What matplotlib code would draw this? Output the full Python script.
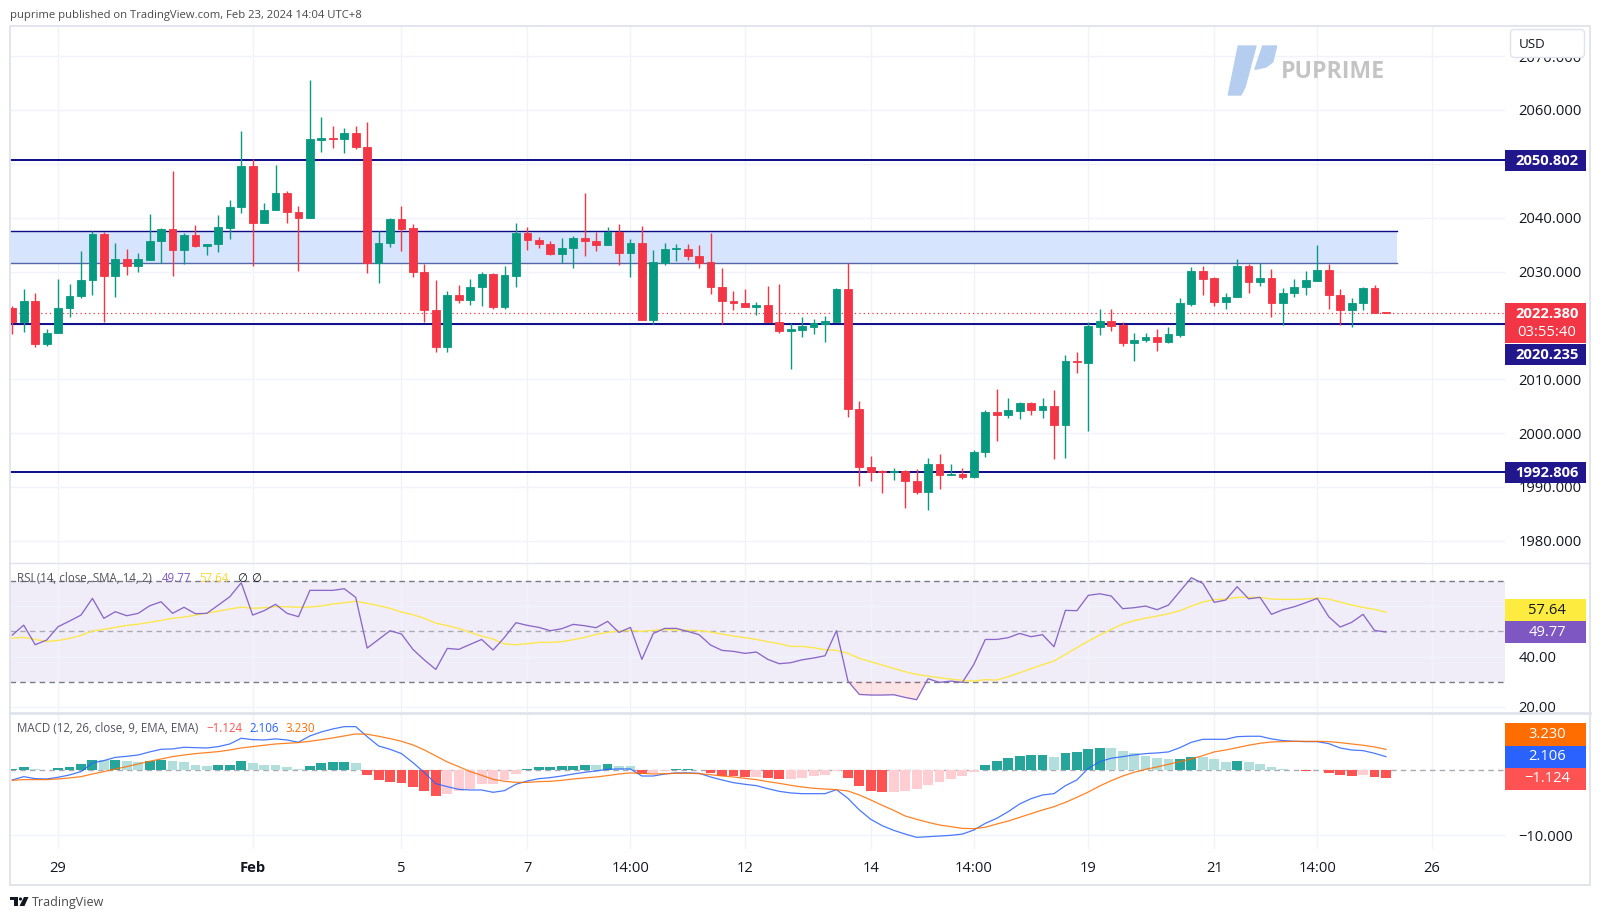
import matplotlib
matplotlib.use('Agg')
import matplotlib.pyplot as plt
from matplotlib.patches import Rectangle, FancyBboxPatch, Polygon, Circle

plt.rcParams['font.family'] = ['Open Sans', 'DejaVu Sans']

""" data read off the picture """
opens = [2023.17, 2020.69, 2024.59, 2016.55, 2018.53, 2023.29, 2025.46, 2028.43, 2036.97, 2029.24,
         2032.39, 2031.09, 2032.15, 2035.67, 2037.90, 2034.00, 2036.79, 2034.74, 2035.12, 2038.15,
         2042.05, 2049.66, 2039.08, 2041.43, 2044.52, 2041.12, 2040.00, 2054.50, 2054.80, 2054.61,
         2055.67, 2053.07, 2031.53, 2035.24, 2039.70, 2038.03, 2029.85, 2022.80, 2016.05, 2025.65,
         2024.72, 2027.07, 2029.55, 2023.48, 2029.24, 2037.10, 2035.86, 2035.12, 2033.26, 2034.31,
         2036.17, 2035.61, 2034.87, 2037.41, 2033.50, 2035.30, 2021.06, 2031.53, 2034.19, 2034.19,
         2032.89, 2031.71, 2027.07, 2024.60, 2024.20, 2023.48, 2023.85, 2020.70, 2019.02, 2019.10,
         2019.78, 2020.30, 2020.70, 2026.76, 2004.41, 1993.64, 1992.95, 1992.78, 1992.95, 1991.10,
         1989.12, 1994.19, 1992.16, 1992.41, 1991.85, 1996.43, 2003.86, 2003.42, 2004.17, 2005.53,
         2004.35, 2004.97, 2001.44, 2013.40, 2013.09, 2019.78, 2020.76, 2020.10, 2016.70, 2017.30,
         2017.86, 2016.92, 2018.28, 2023.98, 2030.10, 2028.74, 2024.35, 2025.28, 2030.98, 2028.00,
         2028.74, 2024.22, 2026.00, 2027.07, 2028.30, 2030.22, 2025.65, 2022.93, 2024.22, 2026.94,
         2022.50]
closes = [2020.69, 2024.59, 2016.55, 2018.53, 2023.29, 2025.46, 2028.43, 2036.97, 2029.24, 2032.39,
          2031.09, 2032.27, 2035.67, 2037.90, 2034.00, 2036.79, 2034.74, 2035.12, 2038.21, 2042.05,
          2049.66, 2039.08, 2041.43, 2044.52, 2041.12, 2040.00, 2054.61, 2054.74, 2054.61, 2055.67,
          2053.07, 2031.53, 2035.30, 2039.70, 2037.96, 2029.85, 2022.80, 2016.05, 2025.65, 2024.72,
          2027.07, 2029.55, 2023.48, 2029.36, 2037.10, 2035.80, 2035.12, 2033.26, 2034.37, 2036.17,
          2035.61, 2034.87, 2037.41, 2033.50, 2035.30, 2021.06, 2031.71, 2034.19, 2034.37, 2032.89,
          2031.53, 2027.07, 2024.60, 2024.16, 2023.48, 2023.85, 2020.70, 2019.02, 2019.26, 2019.84,
          2020.40, 2020.76, 2026.76, 2004.41, 1993.64, 1992.84, 1992.78, 1992.95, 1991.17, 1989.12,
          1994.19, 1992.20, 1992.41, 1991.85, 1996.43, 2003.92, 2003.42, 2004.23, 2005.53, 2004.35,
          2004.97, 2001.44, 2013.33, 2013.27, 2019.90, 2020.76, 2019.96, 2016.80, 2017.30, 2017.86,
          2016.92, 2018.40, 2024.10, 2030.10, 2028.68, 2024.41, 2025.28, 2030.98, 2028.00, 2028.74,
          2024.22, 2026.00, 2027.13, 2028.37, 2030.22, 2025.65, 2022.93, 2024.22, 2026.94, 2022.38,
          2022.38]
highs = [2023.60, 2026.76, 2026.08, 2019.27, 2028.62, 2027.69, 2033.88, 2037.53, 2037.28, 2035.36,
         2034.13, 2033.38, 2040.63, 2038.03, 2048.67, 2037.22, 2038.64, 2035.12, 2040.50, 2043.29,
         2056.10, 2050.90, 2042.79, 2049.72, 2044.96, 2042.23, 2065.57, 2058.76, 2057.03, 2056.60,
         2057.03, 2057.71, 2037.53, 2039.88, 2042.23, 2038.83, 2031.46, 2028.43, 2026.45, 2027.50,
         2028.62, 2029.92, 2029.67, 2031.03, 2038.95, 2038.27, 2036.48, 2035.67, 2036.23, 2036.60,
         2044.59, 2037.41, 2038.27, 2038.83, 2036.05, 2038.46, 2034.00, 2035.30, 2035.12, 2035.12,
         2035.00, 2037.16, 2030.60, 2026.45, 2026.76, 2024.30, 2027.31, 2027.69, 2020.40, 2021.62,
         2021.19, 2021.74, 2026.94, 2031.53, 2005.90, 1995.75, 1993.14, 1993.45, 1993.14, 1993.26,
         1995.30, 1996.05, 1994.27, 1993.46, 1996.86, 2004.29, 2008.25, 2006.44, 2005.78, 2005.78,
         2006.44, 2008.06, 2014.50, 2015.13, 2020.70, 2023.00, 2023.00, 2020.60, 2018.60, 2018.55,
         2019.28, 2019.70, 2025.15, 2030.85, 2031.03, 2028.93, 2026.00, 2032.28, 2031.40, 2031.53,
         2030.40, 2026.90, 2028.55, 2030.10, 2034.93, 2031.40, 2026.76, 2025.10, 2027.20, 2027.50,
         2022.55]
lows = [2018.34, 2018.84, 2016.05, 2016.17, 2018.53, 2021.62, 2025.03, 2025.58, 2020.69, 2025.21,
        2029.36, 2029.92, 2032.15, 2031.53, 2029.17, 2031.46, 2034.62, 2033.07, 2033.69, 2036.11,
        2040.93, 2031.09, 2039.08, 2041.43, 2039.08, 2030.16, 2040.00, 2052.26, 2053.00, 2052.08,
        2052.82, 2029.79, 2027.94, 2034.50, 2033.75, 2029.05, 2020.69, 2015.06, 2015.06, 2024.10,
        2023.79, 2023.60, 2023.10, 2023.10, 2027.07, 2033.94, 2034.31, 2033.14, 2031.53, 2030.73,
        2032.89, 2033.75, 2034.87, 2031.22, 2029.05, 2021.06, 2020.26, 2031.22, 2032.02, 2032.14,
        2030.73, 2025.83, 2020.26, 2022.86, 2023.48, 2021.99, 2020.70, 2018.65, 2011.90, 2017.91,
        2018.40, 2017.00, 2020.70, 2003.05, 1990.18, 1991.17, 1988.94, 1991.29, 1986.15, 1988.75,
        1985.72, 1989.60, 1992.16, 1991.41, 1991.60, 1995.62, 1998.54, 2002.85, 2002.54, 2003.36,
        2002.85, 1995.25, 1995.44, 2011.23, 2000.34, 2018.28, 2019.00, 2016.20, 2013.45, 2016.86,
        2015.20, 2016.80, 2017.90, 2023.60, 2025.58, 2023.60, 2023.06, 2025.28, 2025.95, 2027.38,
        2021.60, 2020.15, 2025.20, 2025.58, 2028.30, 2023.06, 2020.00, 2019.75, 2022.87, 2022.38,
        2022.30]

rsi = [48.55, 52.50, 44.70, 46.56, 51.87, 54.13, 56.50, 63.16, 55.20, 57.85,
       56.25, 57.20, 60.20, 61.80, 57.20, 59.60, 57.05, 57.20, 60.50, 63.80,
       69.40, 56.50, 58.25, 60.80, 57.20, 55.86, 66.35, 66.35, 66.35, 67.00,
       63.56, 43.37, 46.80, 50.28, 48.95, 42.84, 38.60, 34.87, 43.24, 42.84,
       44.83, 46.80, 42.58, 47.62, 53.47, 52.40, 51.60, 50.28, 51.08, 52.80,
       52.27, 51.47, 54.00, 49.60, 51.60, 38.86, 49.20, 51.20, 51.20, 50.00,
       48.70, 44.57, 42.44, 42.05, 41.25, 41.78, 38.86, 37.13, 37.53, 38.70,
       39.40, 40.30, 50.28, 30.20, 24.90, 24.65, 24.65, 24.78, 23.70, 22.80,
       31.15, 29.70, 30.20, 29.70, 36.87, 46.80, 46.80, 47.50, 49.20, 47.90,
       48.70, 43.90, 58.40, 58.25, 64.36, 65.00, 64.10, 59.05, 59.44, 60.10,
       58.65, 60.50, 65.95, 71.40, 69.14, 61.57, 62.50, 67.80, 63.00, 63.56,
       56.80, 58.65, 59.84, 61.44, 63.16, 55.86, 51.74, 53.60, 56.80, 50.40,
       49.77]
rsi_ma = [47.36, 47.62, 46.80, 46.00, 46.40, 47.20, 48.40, 50.15, 50.80, 51.60,
          52.40, 52.90, 53.60, 54.40, 55.20, 55.70, 56.50, 57.30, 58.10, 58.90,
          59.70, 59.20, 59.44, 59.84, 59.84, 59.60, 59.70, 60.10, 60.90, 61.40,
          62.00, 61.20, 60.24, 59.20, 57.70, 56.65, 55.20, 53.30, 52.30, 51.20,
          49.60, 48.15, 46.96, 44.97, 44.70, 45.10, 45.63, 45.63, 45.90, 46.70,
          47.60, 48.80, 49.60, 50.15, 50.40, 50.00, 50.40, 50.80, 50.50, 50.50,
          50.30, 49.75, 48.95, 48.15, 47.50, 46.80, 45.90, 45.10, 44.04, 44.04,
          43.50, 42.70, 42.44, 41.25, 39.26, 37.93, 36.60, 35.27, 33.94, 32.88,
          32.20, 31.55, 31.00, 30.50, 30.20, 30.80, 30.60, 31.95, 33.55, 35.14,
          36.73, 38.20, 40.85, 43.50, 46.16, 48.55, 50.80, 52.93, 54.26, 55.30,
          56.10, 57.05, 58.25, 60.10, 61.70, 62.63, 62.90, 63.56, 63.56, 63.56,
          62.90, 62.76, 62.76, 62.90, 63.30, 62.90, 61.70, 60.50, 59.57, 58.78,
          57.64]

macd = [-1.49, -0.98, -1.29, -1.34, -1.08, -0.72, -0.20, 1.13, 1.50, 2.00,
        2.16, 2.37, 2.84, 3.25, 3.30, 3.56, 3.50, 3.45, 3.66, 4.07,
        4.95, 4.74, 4.69, 4.85, 4.69, 4.33, 5.31, 5.93, 6.39, 6.75,
        6.75, 5.20, 3.76, 3.25, 2.58, 1.19, -0.36, -2.06, -2.53, -2.94,
        -3.04, -3.04, -3.40, -3.14, -2.16, -1.65, -1.29, -1.13, -0.88, -0.57,
        -0.31, -0.10, 0.15, 0.21, 0.21, -0.88, -0.88, -0.57, -0.41, -0.41,
        -0.46, -1.03, -1.49, -1.91, -2.16, -2.37, -2.84, -3.25, -3.50, -3.61,
        -3.61, -3.61, -2.99, -4.33, -6.13, -7.58, -8.56, -9.28, -9.85, -10.36,
        -10.26, -10.15, -10.05, -9.85, -9.23, -8.20, -7.42, -6.39, -5.20, -4.38,
        -3.81, -3.61, -2.37, -1.49, 0.31, 1.34, 1.86, 2.11, 2.37, 2.58,
        2.68, 2.84, 3.50, 4.33, 4.79, 4.79, 4.79, 5.20, 5.26, 5.26,
        4.85, 4.59, 4.48, 4.43, 4.43, 4.12, 3.45, 3.14, 3.04, 2.63,
        2.106]
signal = [-1.55, -1.44, -1.44, -1.44, -1.34, -1.18, -0.98, -0.57, -0.20, 0.20,
          0.57, 0.98, 1.39, 1.75, 2.11, 2.37, 2.58, 2.73, 2.89, 3.14,
          3.45, 3.66, 3.87, 4.07, 4.18, 4.28, 4.48, 4.74, 5.00, 5.31,
          5.62, 5.57, 5.26, 4.90, 4.48, 3.92, 3.14, 2.22, 1.29, 0.57,
          -0.20, -0.77, -1.39, -1.70, -1.86, -1.86, -1.75, -1.70, -1.55, -1.34,
          -1.18, -1.03, -0.82, -0.57, -0.41, -0.46, -0.57, -0.52, -0.46, -0.46,
          -0.52, -0.67, -0.88, -1.03, -1.24, -1.44, -1.75, -2.01, -2.32, -2.58,
          -2.78, -2.89, -2.99, -3.20, -3.81, -4.59, -5.41, -6.19, -7.06, -7.58,
          -8.04, -8.45, -8.71, -8.97, -9.02, -8.80, -8.30, -7.84, -7.27, -6.70,
          -6.13, -5.62, -4.95, -4.18, -3.35, -2.42, -1.60, -0.88, -0.31, 0.15,
          0.52, 0.93, 1.34, 1.75, 2.27, 2.84, 3.14, 3.50, 3.87, 4.18,
          4.38, 4.43, 4.48, 4.48, 4.48, 4.43, 4.28, 4.07, 3.87, 3.61,
          3.23]
hist = [0.15, 0.46, 0.15, 0.05, 0.31, 0.57, 0.93, 1.65, 1.60, 1.65,
        1.50, 1.34, 1.50, 1.52, 1.39, 1.24, 0.88, 0.70, 0.76, 0.88,
        1.50, 1.08, 0.77, 0.75, 0.46, 0.15, 0.72, 1.19, 1.34, 1.36,
        1.08, -0.67, -1.44, -1.75, -1.91, -2.53, -3.25, -4.02, -3.61, -3.25,
        -2.84, -2.11, -2.06, -1.49, -0.52, 0.20, 0.46, 0.48, 0.62, 0.72,
        0.77, 0.75, 0.98, 0.67, 0.62, -0.57, -0.46, -0.15, 0.15, 0.17,
        0.10, -0.46, -0.82, -0.93, -1.08, -1.03, -1.19, -1.34, -1.32, -1.19,
        -0.88, -0.72, -0.10, -1.19, -2.37, -3.14, -3.30, -3.28, -3.20, -2.89,
        -2.27, -1.80, -1.34, -0.88, -0.26, 0.82, 1.50, 1.90, 2.20, 2.37,
        2.39, 2.11, 2.73, 2.84, 3.30, 3.45, 3.43, 3.04, 2.73, 2.27,
        1.96, 1.70, 1.80, 2.11, 2.09, 1.70, 1.34, 1.50, 1.24, 1.03,
        0.46, 0.15, 0.05, -0.05, 0.05, -0.41, -0.72, -0.82, -0.80, -1.03,
        -1.124]

time_ticks = [4, 21, 34, 45, 54, 64, 75, 84, 94, 105, 114, 124]
time_labels = ['29', 'Feb', '5', '7', '14:00', '12', '14', '14:00', '19', '21', '14:00', '26']
price_ticks = [2070, 2060, 2050, 2040, 2030, 2020, 2010, 2000, 1990, 1980]
price_hidden = [2050, 2020]  # sit under the price tags in the picture
rsi_ticks = [20, 40, 60]
rsi_hidden = [60]
levels = [2050.802, 2020.235, 1992.806]
zone_low, zone_high, zone_end = 2031.53, 2037.47, 121
last_price = 2022.38

UP = '#089981'
DOWN = '#f23645'
NAVY = '#0c0a87'
TAG_NAVY = '#22168c'
GRID = '#f0f3fa'
BORDER = '#e0e3eb'
TXT = '#131722'
W, H = 1600, 919

fig = plt.figure(figsize=(W / 100, H / 100), dpi=100, facecolor='white')

def pane(top, bottom):
    ax = fig.add_axes([10 / W, 1 - bottom / H, 1495 / W, (bottom - top) / H])
    ax.set_xlim(-0.2, 130.4)
    for s in ax.spines.values():
        s.set_visible(False)
    ax.set_axisbelow(True)
    ax.grid(True, color=GRID, lw=1)
    ax.set_xticks(time_ticks)
    ax.yaxis.tick_right()
    ax.tick_params(axis='y', length=0, pad=9.5, labelsize=10.6, labelcolor=TXT)
    ax.tick_params(axis='x', length=0, labelbottom=False)
    return ax

""" price pane """
ax1 = pane(27, 562)
ax1.set_ylim(1976.06, 2075.41)
ax1.set_yticks(price_ticks)
ax1.set_yticklabels(['' if p in price_hidden else '{:.3f}'.format(p) for p in price_ticks])
ax1.add_patch(Rectangle((-1, zone_low), zone_end + 1, zone_high - zone_low, fc='#d6e4fd', ec='none', zorder=1))
ax1.plot([-1, zone_end], [zone_high, zone_high], color=NAVY, lw=1.0, zorder=1.5)
ax1.plot([-1, zone_end], [zone_low, zone_low], color='#5566a8', lw=1.0, zorder=1.5)
for lv in levels:
    ax1.axhline(lv, color=NAVY, lw=1.4, zorder=1.5)
ax1.axhline(last_price, color=DOWN, lw=0.9, ls=(0, (1, 2.5)), zorder=1.6)

idx = list(range(len(opens)))
colors = [UP if c >= o else DOWN for o, c in zip(opens, closes)]
ax1.vlines(idx, lows, highs, colors=colors, lw=1.0, zorder=2)
ax1.bar(idx, [abs(c - o) for o, c in zip(opens, closes)], bottom=[min(o, c) for o, c in zip(opens, closes)],
        width=0.68, color=colors, edgecolor=colors, lw=0.6, zorder=3)

""" rsi pane """
ax2 = pane(563, 712)
ax2.set_ylim(17.9, 77.25)
ax2.set_yticks(rsi_ticks)
ax2.set_yticklabels(['' if t in rsi_hidden else '{:.2f}'.format(t) for t in rsi_ticks])
ax2.axhspan(30, 70, color='#7e57c2', alpha=0.1, lw=0, zorder=0.5)
ax2.axhline(70, color='#787b86', lw=1, ls=(0, (4, 3)), zorder=1)
ax2.axhline(50, color='#a8abb4', lw=1, ls=(0, (4, 3)), zorder=1)
ax2.axhline(30, color='#787b86', lw=1, ls=(0, (4, 3)), zorder=1)
ax2.fill_between(idx, rsi, 30, where=[r < 30 for r in rsi], interpolate=True, color='#f23645', alpha=0.13, lw=0, zorder=1.2)
ax2.fill_between(idx, rsi, 70, where=[r > 70 for r in rsi], interpolate=True, color='#089981', alpha=0.13, lw=0, zorder=1.2)
ax2.plot(idx, rsi_ma, color='#fde74c', lw=1.0, zorder=2)
ax2.plot(idx, rsi, color='#8a68c8', lw=0.95, zorder=3)

""" macd pane """
ax3 = pane(714, 849)
ax3.set_ylim(-12.16, 8.7)
ax3.set_yticks([-10])
ax3.set_yticklabels(['\u221210.000'])
ax3.axhline(0, color='#a8abb4', lw=1, ls=(0, (4, 3)), zorder=1)
hist_colors = []
for i, h in enumerate(hist):
    prev = hist[i - 1] if i > 0 else 0
    if h >= 0:
        hist_colors.append('#26a69a' if h >= prev else '#b2dfdb')
    else:
        hist_colors.append('#ff5252' if h < prev else '#ffcdd2')
ax3.bar(idx, hist, width=0.86, color=hist_colors, lw=0, zorder=2)
ax3.plot(idx, macd, color='#2962ff', lw=0.9, alpha=0.85, zorder=3)
ax3.plot(idx, signal, color='#ff6d00', lw=0.9, alpha=0.85, zorder=3.1)
ax3.tick_params(axis='x', labelbottom=True, pad=9, labelsize=10.6, labelcolor=TXT)
ax3.set_xticklabels(time_labels)
ax3.get_xticklabels()[1].set_fontweight('bold')

""" overlay in pixels: frame, tags, texts, logos """
ov = fig.add_axes([0, 0, 1, 1], zorder=10)
ov.set_xlim(0, W)
ov.set_ylim(H, 0)
ov.axis('off')
ov.patch.set_alpha(0)

ov.add_patch(Rectangle((10, 26), 1580, 859, fc='none', ec=BORDER, lw=1.3))
ov.plot([10, 1590], [562.5, 562.5], color=BORDER, lw=1)
ov.plot([10, 1590], [713, 713], color=BORDER, lw=2)

def tag(top, bottom, label, bg, fg='white', weight='bold'):
    ov.add_patch(Rectangle((1505, top), 81, bottom - top, fc=bg, ec='none', zorder=4))
    if label:
        ov.text(1547, (top + bottom) / 2 + 0.5, label, color=fg, fontsize=10.6, fontweight=weight, ha='center', va='center', zorder=5)

tag(150, 171, '2050.802', TAG_NAVY)
tag(303, 343, '', DOWN)
ov.text(1547, 314, '2022.380', color='white', fontsize=10.6, fontweight='bold', ha='center', va='center', zorder=5)
ov.text(1547, 332.5, '03:55:40', color='white', fontsize=10.6, ha='center', va='center', zorder=5)
tag(344, 364.5, '2020.235', TAG_NAVY)
tag(462, 483, '1992.806', TAG_NAVY)
tag(598.5, 621, '57.64', '#fdeb3f', fg=TXT, weight='normal')
tag(621, 643, '49.77', '#7e57c2', weight='normal')
tag(723, 745.5, '3.230', '#ff6d00', weight='normal')
tag(745.5, 767.5, '2.106', '#2962ff', weight='normal')
tag(767.5, 789.5, '\u22121.124', '#ff5252', weight='normal')

ov.add_patch(FancyBboxPatch((1513, 32), 69, 23, boxstyle='round,pad=2.5,rounding_size=4', fc='white', ec=BORDER, lw=1, zorder=4))
ov.text(1519, 44.5, 'USD', color=TXT, fontsize=9.6, ha='left', va='center', zorder=5)

ov.text(10, 15.5, 'puprime published on TradingView.com, Feb 23, 2024 14:04 UTC+8', color='#4a4a4a', fontsize=8.1, ha='left', va='center')

ov.text(17.3, 578, 'RSI (14, close, SMA, 14, 2)', color='#50535e', fontsize=8.3, ha='left', va='center')
ov.text(162, 578, '49.77', color='#7e57c2', fontsize=8.3, ha='left', va='center')
ov.text(199, 578, '57.64', color='#fdd835', fontsize=8.3, ha='left', va='center')
ov.text(237, 578, '\u2205', color=TXT, fontsize=8.3, ha='left', va='center')
ov.text(251, 578, '\u2205', color=TXT, fontsize=8.3, ha='left', va='center')

ov.text(17.3, 729, 'MACD (12, 26, close, 9, EMA, EMA)', color='#50535e', fontsize=8.3, ha='left', va='center')
ov.text(206.7, 729, '\u22121.124', color='#ff5252', fontsize=8.3, ha='left', va='center')
ov.text(249, 729, '2.106', color='#2962ff', fontsize=8.3, ha='left', va='center')
ov.text(285, 729, '3.230', color='#ff6d00', fontsize=8.3, ha='left', va='center')

# puprime watermark
ov.add_patch(Polygon([(1238.3, 46), (1256, 46), (1245, 87), (1241, 95), (1228.3, 95)], fc='#b5cdee', ec='#b5cdee', lw=1, joinstyle='round'))
ov.add_patch(Polygon([(1262.7, 46), (1276.7, 46), (1272.7, 62), (1266, 67), (1255, 69.3)], fc='#b5cdee', ec='#b5cdee', lw=1, joinstyle='round'))
ov.text(1281, 72.5, 'PUPRIME', color='#c4c4c4', fontsize=16.6, fontweight='bold', ha='left', va='center')

# tradingview footer
ov.add_patch(Rectangle((10, 897), 8, 3, fc='#131722', ec='none'))
ov.add_patch(Rectangle((13.5, 897), 4.5, 9, fc='#131722', ec='none'))
ov.add_patch(Circle((20.5, 899), 1.6, fc='#131722', ec='none'))
ov.add_patch(Polygon([(24, 897), (28.5, 897), (24.5, 906), (19.5, 906)], fc='#131722', ec='none'))
ov.text(32, 902.5, 'TradingView', color='#4a4a4a', fontsize=9, ha='left', va='center')

fig.savefig('out.png', dpi=100)
